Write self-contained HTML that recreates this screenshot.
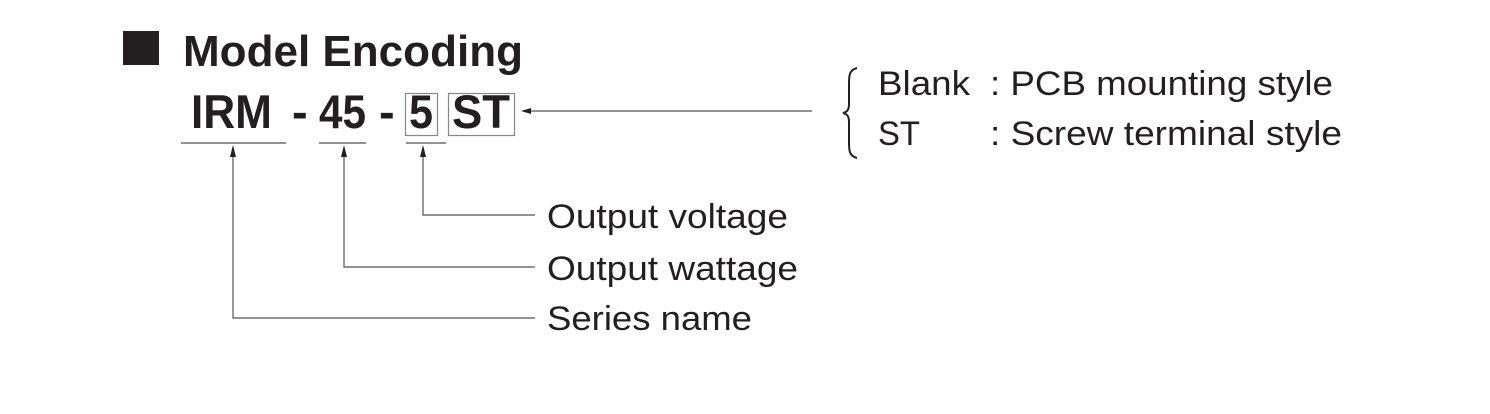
<!DOCTYPE html>
<html><head><meta charset="utf-8"><style>
html,body{margin:0;padding:0;background:#fff;}
svg{display:block;}
text{font-family:"Liberation Sans",Arial,sans-serif;fill:#231f20;}
</style></head><body>
<svg width="1490" height="414" viewBox="0 0 1490 414" xmlns="http://www.w3.org/2000/svg">
<rect x="123" y="31" width="36" height="34" fill="#231f20"/>
<text x="183" y="66" font-size="44" font-weight="bold" textLength="340" lengthAdjust="spacingAndGlyphs">Model Encoding</text>
<text x="191" y="128" font-size="47" font-weight="bold" textLength="81" lengthAdjust="spacingAndGlyphs">IRM</text>
<text x="292" y="128" font-size="47" font-weight="bold">-</text>
<text x="319" y="128" font-size="47" font-weight="bold" textLength="47" lengthAdjust="spacingAndGlyphs">45</text>
<text x="379" y="128" font-size="47" font-weight="bold">-</text>
<rect x="405.5" y="93.5" width="32" height="42" fill="none" stroke="#888" stroke-width="1.2"/>
<text x="409" y="128" font-size="47" font-weight="bold" textLength="24" lengthAdjust="spacingAndGlyphs">5</text>
<rect x="448.5" y="93.5" width="66" height="42" fill="none" stroke="#888" stroke-width="1.2"/>
<text x="452" y="128" font-size="47" font-weight="bold" textLength="58" lengthAdjust="spacingAndGlyphs">ST</text>
<g stroke="#555" stroke-width="1.2" fill="none">
<line x1="530" y1="111" x2="812" y2="111"/>
<line x1="181" y1="143" x2="286" y2="143"/>
<line x1="319" y1="143" x2="366" y2="143"/>
<line x1="406" y1="143" x2="446" y2="143"/>
<polyline points="233,155 233,318 535,318"/>
<polyline points="344,155 344,267 535,267"/>
<polyline points="423,155 423,215 535,215"/>
<path d="M857,68 C849,70 849,76 849,84 L849,104 C849,110 847,112 843,113 C847,114 849,116 849,122 L849,142 C849,150 849,156 857,158" stroke="#231f20" stroke-width="2"/>
</g>
<g fill="#231f20">
<polygon points="521,111 531,108 531,114"/>
<polygon points="233,145 230,157 236,157"/>
<polygon points="344,145 341,157 347,157"/>
<polygon points="423,145 420,157 426,157"/>
</g>
<g font-size="34">
<text x="547" y="228" textLength="241" lengthAdjust="spacingAndGlyphs">Output voltage</text>
<text x="547" y="280" textLength="251" lengthAdjust="spacingAndGlyphs">Output wattage</text>
<text x="547" y="330" textLength="205" lengthAdjust="spacingAndGlyphs">Series name</text>
<text x="878" y="95" textLength="92" lengthAdjust="spacingAndGlyphs">Blank</text>
<text x="990" y="95" textLength="343" lengthAdjust="spacingAndGlyphs">: PCB mounting style</text>
<text x="878" y="145" textLength="42" lengthAdjust="spacingAndGlyphs">ST</text>
<text x="990" y="145" textLength="352" lengthAdjust="spacingAndGlyphs">: Screw terminal style</text>
</g>
</svg>
</body></html>
